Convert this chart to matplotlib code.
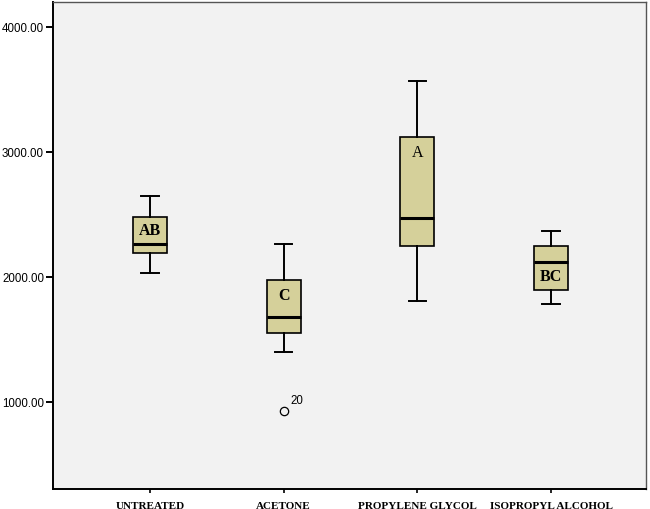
import matplotlib
matplotlib.use("Agg")
import matplotlib.pyplot as plt

# values (SPSS boxplot)
groups = ["UNTREATED", "ACETONE", "PROPYLENE GLYCOL", "ISOPROPYL ALCOHOL"]
whisker_low = [2027, 1396, 1808, 1779]
q1 = [2188, 1552, 2246, 1893]
median = [2260, 1674, 2468, 2121]
q3 = [2482, 1971, 3120, 2246]
whisker_high = [2647, 2262, 3564, 2367]
outliers = [[], [923], [], []]
outlier_ids = [[], ["20"], [], []]
letters = ["AB", "C", "A", "BC"]
letter_y = [2372, 1851, 2995, 2005]
letter_bold = [True, True, False, True]

stats = []
for i in range(len(groups)):
    stats.append(dict(whislo=whisker_low[i], q1=q1[i], med=median[i],
                      q3=q3[i], whishi=whisker_high[i], fliers=outliers[i]))

fig = plt.figure(figsize=(6.5, 5.1), dpi=100)
ax = fig.add_axes([53 / 650, 1 - 490 / 510, 593 / 650, 487 / 510])
ax.set_facecolor("#f2f2f2")

pos = list(range(1, len(groups) + 1))
ax.bxp(stats, positions=pos, widths=0.255, patch_artist=True,
       boxprops=dict(facecolor="#d5d09a", edgecolor="black", linewidth=1.2),
       medianprops=dict(color="black", linewidth=2.2),
       whiskerprops=dict(color="black", linewidth=1.4),
       capprops=dict(color="black", linewidth=1.4),
       capwidths=0.13,
       flierprops=dict(marker="o", markersize=6, markerfacecolor="none",
                       markeredgecolor="black", markeredgewidth=0.9))

for i, p in enumerate(pos):
    for v, lab in zip(outliers[i], outlier_ids[i]):
        ax.annotate(lab, (p, v), xytext=(5, 4), textcoords="offset points",
                    fontsize=8.3, family="Liberation Sans", va="bottom")
    ax.text(p, letter_y[i], letters[i], ha="center", va="center",
            fontsize=11.5, family="Liberation Serif",
            fontweight="bold" if letter_bold[i] else "normal")

ax.set_xlim(0.275, 4.71)
ax.set_ylim(300, 4200)
ax.set_yticks([1000, 2000, 3000, 4000])
ax.set_yticklabels(["1000.00", "2000.00", "3000.00", "4000.00"],
                   fontsize=8.3, family="Liberation Sans")
ax.set_xticks(pos)
ax.set_xticklabels(groups, fontsize=8, family="Liberation Serif",
                   fontweight="bold")
ax.tick_params(axis="y", length=5, width=1.4, pad=1.5)
ax.tick_params(axis="x", length=3, width=1.2, pad=6)

for s in ["left", "bottom"]:
    ax.spines[s].set_linewidth(1.4)
    ax.spines[s].set_color("black")
for s in ["top", "right"]:
    ax.spines[s].set_linewidth(1.0)
    ax.spines[s].set_color("#555555")

fig.savefig("out.png", dpi=100, facecolor="white")
